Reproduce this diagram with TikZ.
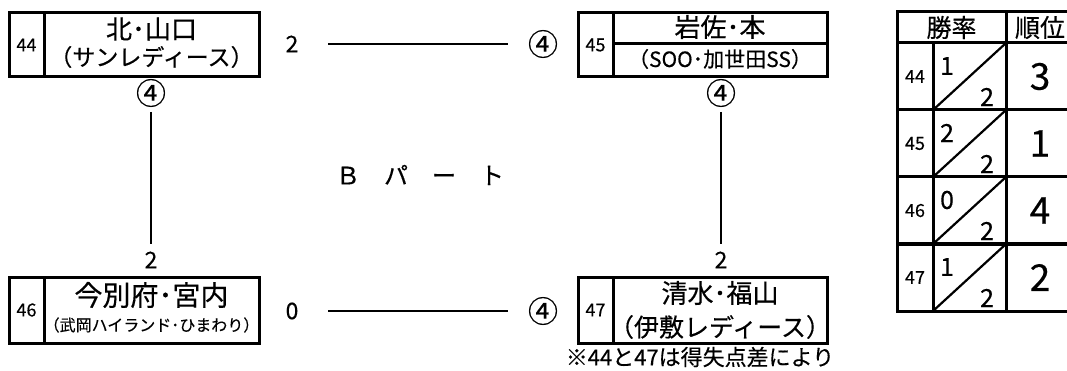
\documentclass[tikz,border=0pt]{standalone}
\usepackage{fontspec}
\setmainfont{Noto Sans CJK JP}[FakeBold=0.4]
\usetikzlibrary{positioning}
\newcommand{\fsz}[1]{\fontsize{#1}{#1}\selectfont}

\begin{document}
\begin{tikzpicture}[x=1pt, y=-1pt,
   every node/.style={inner sep=0pt, outer sep=0pt},
   numbox/.style={draw, line width=3pt, minimum width=35pt, minimum height=64pt, font=\fsz{18}},
   namebox/.style={draw, line width=3pt, minimum width=215pt, minimum height=64pt},
   teamname/.style={font=\fsz{26}},
   score/.style={font=\fsz{23}},
   circnum/.style={font=\fsz{30}},
   link/.style={line width=2.8pt},
   cell/.style={draw, line width=3pt}]

\useasboundingbox (0,0) rectangle (1067,371);

% team boxes
\node[numbox] (n44) at (26.5,45) {44};
\node[namebox, right=0pt of n44] (b44) {};
\node[teamname] (t44) at (151.5,29) {北･山口};
\node[font=\fsz{23}] (u44) at (151.5,57) {（サンレディース）};

\node[numbox] (n45) at (595.5,45) {45};
\node[namebox, minimum width=214pt, minimum height=31pt, anchor=north west] (b45) at (n45.north east) {};
\node[namebox, minimum width=214pt, minimum height=33pt, anchor=north west] (b45s) at (b45.south west) {};
\node[teamname] (t45) at (720,27) {岩佐･本};
\node[font=\fsz{21}] (u45) at (720,59) {（SOO･加世田SS）};

\node[numbox, minimum height=66pt] (n46) at (26.5,310) {46};
\node[namebox, minimum height=66pt, right=0pt of n46] (b46) {};
\node[font=\fsz{28}] (t46) at (151.5,295) {今別府･宮内};
\node[font=\fsz{16}] (u46) at (151.5,325) {（武岡ハイランド･ひまわり）};

\node[numbox, minimum height=66pt] (n47) at (595.5,310) {47};
\node[namebox, minimum width=214pt, minimum height=66pt, right=0pt of n47] (b47) {};
\node[teamname] (t47) at (720,293) {清水･福山};
\node[font=\fsz{25}] (u47) at (720,327) {（伊敷レディース）};

% results
\node[score] (s44) at (292,44) {2};
\node[circnum] (c45) at (543,44) {④};
\draw[link, shorten <=30pt, shorten >=20pt] (s44) -- (c45);

\node[circnum] (c44) at (151,93) {④};
\node[score] (s46) at (151,260) {2};
\draw[link, shorten <=5pt, shorten >=8pt] (c44) -- (s46);

\node[circnum] (c45b) at (721,93) {④};
\node[score] (s47) at (721,260) {2};
\draw[link, shorten <=5pt, shorten >=8pt] (c45b) -- (s47);

\node[score] (s46r) at (292,311) {0};
\node[circnum] (c47) at (543,311) {④};
\draw[link, shorten <=30pt, shorten >=20pt] (s46r) -- (c47);

\node[font=\fsz{24}] (part) at (420,175) {Ｂ　パ　ー　ト};
\node[font=\fsz{22}] (note) at (700,357) {※44と47は得失点差により};

% table
\node[cell, minimum width=109pt, minimum height=31pt, font=\fsz{25}] (hw) at (951.5,27.5) {勝率};
\node[cell, minimum width=68pt, minimum height=31pt, font=\fsz{25}, anchor=west] (hr) at (hw.east) {順位};
\foreach \id/\win/\rank [count=\i from 0] in {44/1/3,45/2/1,46/0/4,47/1/2}{
  \node[cell, minimum width=36pt, minimum height=67pt, font=\fsz{18}] (r\id) at (915,76.5+67*\i) {\id};
  \node[cell, minimum width=73pt, minimum height=67pt, anchor=west] (f\id) at (r\id.east) {};
  \node[cell, minimum width=68pt, minimum height=67pt, anchor=west, font=\fsz{37}] (k\id) at (f\id.east) {\rank};
  \draw[line width=2.2pt] (f\id.south west) -- (f\id.north east);
  \node[font=\fsz{25}] (w\id) at ([xshift=14pt,yshift=-23pt]f\id.north west) {\win};
  \node[font=\fsz{25}] (d\id) at ([xshift=-19pt,yshift=13pt]f\id.south east) {2};
}
\end{tikzpicture}
\end{document}
